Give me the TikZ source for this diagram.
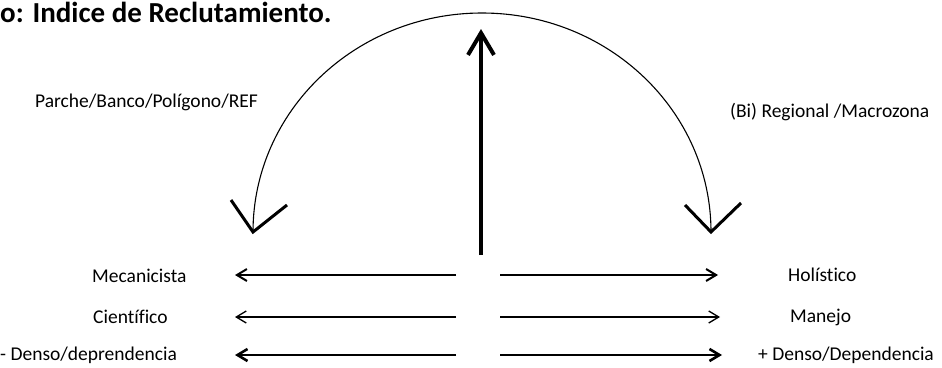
\documentclass[tikz,border=0pt]{standalone}
\usepackage{fontspec}
\setmainfont{Carlito}[Ligatures=NoCommon]
\usetikzlibrary{arrows.meta,calc}
\tikzset{
  lbl/.style={inner sep=0pt, anchor=base west, font=\fontsize{19.5}{22}\selectfont},
  ttl/.style={inner sep=0pt, anchor=base west, font=\fontsize{29}{33}\selectfont\bfseries},
  arcline/.style={line width=1.1pt},
  vhead/.style={line width=3pt, line join=miter},
  axis/.style={line width=4pt, -{Straight Barb[length=22pt,width=26pt]}},
  sidearrow/.style={-{Straight Barb[length=10pt,width=12pt]}}
}
\begin{document}
\begin{tikzpicture}[x=1pt,y=-1pt]
\useasboundingbox (0,0) rectangle (942,367);
% title
\node[ttl] (title) at (0,22) {o: Indice de Reclutamiento.};
% scale labels
\node[lbl] (parche) at (35,107) {Parche/Banco/Polígono/REF};
\node[lbl] (regional) at (730,117) {(Bi) Regional /Macrozona};
% half circle with open heads
\coordinate (arcL) at (253,232);
\coordinate (arcR) at (711,232);
\draw[arcline] (arcL) arc[start angle=180, end angle=0, x radius=229pt, y radius=219pt];
\draw[vhead] ($(arcL)+(-22,-32)$) -- (arcL) -- ($(arcL)+(34,-27)$);
\draw[vhead] ($(arcR)+(-26,-27)$) -- (arcR) -- ($(arcR)+(30,-29)$);
% central axis
\coordinate (base) at (481,255);
\coordinate (top) at (481,29);
\draw[axis] (base) -- (top);
% rows
\node[lbl] (mec) at (92,282) {Mecanicista};
\node[lbl] (cie) at (93,323) {Científico};
\node[lbl] (dml) at (0,360) {- Denso/deprendencia};
\node[lbl] (hol) at (788,281) {Holístico};
\node[lbl] (man) at (790,322) {Manejo};
\node[lbl] (dpl) at (758,360) {+ Denso/Dependencia};
\foreach \n/\y/\w/\t in {1/275/2/718, 2/317/1.3/720, 3/355/2.6/722}
{
  \coordinate (lin\n) at (456,\y);
  \coordinate (lout\n) at (235,\y);
  \coordinate (rin\n) at (500,\y);
  \coordinate (rout\n) at (\t,\y);
  \draw[sidearrow, line width=\w pt] (lin\n) -- (lout\n);
  \draw[sidearrow, line width=\w pt] (rin\n) -- (rout\n);
}
\end{tikzpicture}
\end{document}
